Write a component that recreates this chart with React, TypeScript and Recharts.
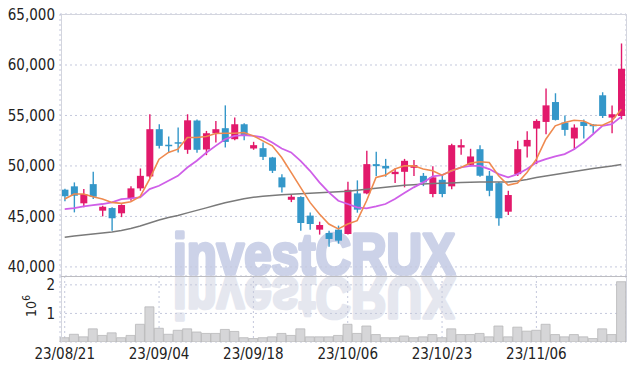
import { ComposedChart, Bar, Line, XAxis, YAxis, CartesianGrid, Customized } from "recharts";

const dates = [
  "23/08/21", "23/08/22", "23/08/23", "23/08/24", "23/08/25", "23/08/28", "23/08/29", "23/08/30", "23/08/31", "23/09/01",
  "23/09/04", "23/09/05", "23/09/06", "23/09/07", "23/09/08", "23/09/11", "23/09/12", "23/09/13", "23/09/14", "23/09/15",
  "23/09/18", "23/09/19", "23/09/20", "23/09/21", "23/09/22", "23/09/25", "23/09/26", "23/09/27", "23/10/04", "23/10/05",
  "23/10/06", "23/10/10", "23/10/11", "23/10/12", "23/10/13", "23/10/16", "23/10/17", "23/10/18", "23/10/19", "23/10/20",
  "23/10/23", "23/10/24", "23/10/25", "23/10/26", "23/10/27", "23/10/30", "23/10/31", "23/11/01", "23/11/02", "23/11/03",
  "23/11/06", "23/11/07", "23/11/08", "23/11/09", "23/11/10", "23/11/13", "23/11/14", "23/11/15", "23/11/16", "23/11/17",
];

const opens = [
  47650, 47980, 46300, 48200, 45570, 45830, 45310, 46790, 47780, 48960,
  53640, 52100, 52350, 51600, 54500, 51630, 53240, 53740, 52650, 54130,
  51730, 51760, 50840, 48870, 46650, 46920, 45080, 43690, 43360, 43690,
  43260, 47280, 47280, 50180, 50010, 49190, 49420, 49815, 49020, 47220,
  48630, 47980, 51830, 50110, 51660, 49030, 48300, 45470, 49190, 51930,
  53700, 54360, 56330, 54300, 52720, 54360, 54100, 57000, 54790, 54950,
];
const highs = [
  47750, 48370, 47710, 49420, 46060, 45900, 46200, 47980, 49750, 55120,
  54130, 52920, 53800, 55120, 54600, 53470, 54460, 56000, 54790, 54230,
  52390, 52320, 50900, 49190, 47190, 47000, 45400, 44480, 43590, 44090,
  48430, 48570, 51500, 51400, 50700, 49750, 50700, 50600, 49300, 49980,
  49100, 52200, 52650, 51700, 52060, 49500, 48400, 47540, 52500, 53440,
  54620, 57660, 57200, 55000, 54120, 54600, 54150, 57300, 55980, 62130,
];
const lows = [
  46500, 45400, 45900, 46720, 45010, 43590, 44930, 46550, 47540, 48700,
  51730, 51340, 51340, 51200, 51300, 51070, 52320, 51830, 52550, 52550,
  51600, 50600, 49300, 47380, 46420, 43590, 43690, 43200, 42000, 42300,
  43200, 45370, 47200, 49000, 48930, 48300, 47880, 49000, 48000, 46900,
  46900, 47700, 51100, 49980, 48930, 47000, 44080, 45140, 49000, 50840,
  50180, 53150, 54500, 53000, 51600, 52720, 53230, 54750, 53230, 54620,
];
const closes = [
  47000, 47050, 47220, 46950, 45960, 44820, 46130, 47780, 49020, 53640,
  51990, 52000, 52300, 54520, 51600, 53240, 53640, 52380, 54130, 52980,
  52060, 50900, 49520, 47880, 46950, 44350, 44250, 44150, 42770, 42600,
  47640, 45670, 50180, 49980, 49750, 49420, 50510, 50080, 48370, 48870,
  47220, 52060, 52060, 50940, 49030, 47540, 44820, 47120, 51660, 52580,
  54460, 56000, 54560, 53570, 53800, 53960, 53930, 54950, 55120, 59630,
];

const ma5 = [
  46720, 47220, 47220, 46950, 46720, 46390, 46290, 46450, 46990, 48700,
  50670, 51340, 51660, 52820, 52820, 52920, 53210, 53240, 53240, 53310,
  52980, 52480, 51990, 50840, 49360, 47880, 46390, 45240, 44250, 43760,
  44250, 44580, 46550, 48870, 49090, 49690, 50010, 50010, 49690, 49520,
  49090, 49520, 49850, 50280, 50410, 50350, 49020, 48100, 48300, 49360,
  50670, 52650, 53970, 54300, 54530, 54460, 54030, 54030, 54460, 55610,
];
const ma20 = [
  45730, 45830, 46000, 46130, 46230, 46390, 46720, 46790, 46890, 47710,
  48040, 48530, 49020, 49850, 50510, 51300, 51990, 52650, 52980, 53050,
  52980, 52820, 52320, 51730, 51340, 50510, 49520, 48370, 47380, 46550,
  46230, 45900, 45800, 46000, 46230, 46720, 47310, 47880, 48370, 48960,
  49090, 49520, 49850, 50010, 50010, 49690, 49190, 48870, 49190, 49690,
  50350, 50670, 50940, 51170, 51660, 52320, 53140, 53970, 54130, 54890,
];
const ma60 = [
  42940, 43050, 43150, 43250, 43350, 43450, 43600, 43800, 44050, 44350,
  44650, 44900, 45100, 45350, 45600, 45850, 46100, 46350, 46550, 46750,
  46900, 47000, 47080, 47150, 47200, 47250, 47300, 47350, 47400, 47450,
  47500, 47600, 47700, 47800, 47900, 48000, 48080, 48150, 48200, 48250,
  48280, 48320, 48350, 48380, 48400, 48400, 48400, 48420, 48500, 48650,
  48850, 49000, 49150, 49300, 49450, 49600, 49750, 49880, 50000, 50150,
];

// volume in millions of shares
const volumes = [
  0.15, 0.27, 0.18, 0.46, 0.23, 0.32, 0.15, 0.23, 0.62, 1.23,
  0.48, 0.27, 0.41, 0.46, 0.35, 0.3, 0.3, 0.44, 0.37, 0.15,
  0.12, 0.15, 0.18, 0.3, 0.23, 0.46, 0.18, 0.18, 0.18, 0.23,
  0.62, 0.3, 0.56, 0.26, 0.15, 0.15, 0.21, 0.15, 0.18, 0.26,
  0.15, 0.46, 0.26, 0.26, 0.3, 0.18, 0.56, 0.18, 0.52, 0.38,
  0.41, 0.62, 0.26, 0.18, 0.26, 0.18, 0.12, 0.46, 0.26, 2.11,
];

const priceTicks = [40000, 45000, 50000, 55000, 60000, 65000];
const volumeTicks = [1, 2];

const PINK = "#e2196b";
const BLUE = "#3497c9";
const GRID = "#c4c8dc";
const FONT = "'Liberation Sans Narrow', 'DejaVu Sans Condensed', sans-serif";
const MARK_FONT = "'Liberation Sans', Arial, sans-serif";
const tickStyle = { fontSize: 15, fill: "#222", fontFamily: FONT };

const rows = dates.map((date, i) => ({
  date,
  open: opens[i],
  high: highs[i],
  low: lows[i],
  close: closes[i],
  range: [lows[i], highs[i]],
  ma5: ma5[i],
  ma20: ma20[i],
  ma60: ma60[i],
  vol: volumes[i],
}));

const Candle = (props: any) => {
  const { x, y, width, height, payload } = props;
  if (!payload || height == null) return null;
  const { open, close, high, low } = payload;
  const color = close >= open ? PINK : BLUE;
  const ratio = height / (high - low);
  const cx = x + width / 2;
  const yOpen = y + (high - open) * ratio;
  const yClose = y + (high - close) * ratio;
  const top = Math.min(yOpen, yClose);
  const bodyH = Math.max(Math.abs(yOpen - yClose), 1.5);
  const bw = 7;
  return (
    <g>
      <line x1={cx} x2={cx} y1={y} y2={y + height} stroke={color} strokeWidth={1.4} />
      <rect x={cx - bw / 2} y={top} width={bw} height={bodyH} fill={color} />
    </g>
  );
};

// "10^6" unit label, in the volume chart's own coordinates
const VolumeUnit = () => (
  <text
    x={36}
    y={30}
    transform="rotate(-90 36 30)"
    fontSize={14}
    fill="#222"
    fontFamily={FONT}
    textAnchor="middle"
  >
    10
    <tspan dy={-6} fontSize={10}>6</tspan>
  </text>
);

export default function App() {
  return (
    <div style={{ position: "absolute", left: 0, top: 0, width: 634, height: 370, background: "#fff" }}>
      <svg width={634} height={370} style={{ position: "absolute", left: 0, top: 0 }}>
        <text
          x={173}
          y={274}
          fontFamily={MARK_FONT}
          fontWeight="bold"
          fontSize={58}
          fill="#ccd2e8"
          stroke="#ccd2e8"
          strokeWidth={3.5}
          strokeLinejoin="round"
          textLength={282}
          lengthAdjust="spacingAndGlyphs"
        >
          investCRUX
        </text>
        <text
          x={173}
          y={274}
          transform="translate(0 552) scale(1 -1)"
          fontFamily={MARK_FONT}
          fontWeight="bold"
          fontSize={58}
          fill="#e5e7ef"
          stroke="#e5e7ef"
          strokeWidth={3.5}
          strokeLinejoin="round"
          textLength={282}
          lengthAdjust="spacingAndGlyphs"
        >
          investCRUX
        </text>
      </svg>

      <div style={{ position: "absolute", left: 0, top: 0 }}>
        <ComposedChart width={634} height={276} data={rows} margin={{ top: 14, right: 8, left: 0, bottom: 0 }}>
          <CartesianGrid stroke={GRID} strokeDasharray="2 3" />
          <XAxis dataKey="date" height={0} interval={9} tick={false} axisLine={false} tickLine={false} />
          <YAxis
            domain={[39100, 65050]}
            allowDataOverflow
            ticks={priceTicks}
            width={60}
            tick={tickStyle}
            tickSize={0}
            tickMargin={5}
            axisLine={false}
            tickFormatter={(v) => v.toLocaleString("en-US")}
          />
          <Line dataKey="ma60" stroke="#7a7a7a" strokeWidth={1.5} dot={false} isAnimationActive={false} />
          <Bar dataKey="range" shape={<Candle />} isAnimationActive={false} />
          <Line dataKey="ma20" stroke="#cf5fe8" strokeWidth={1.8} dot={false} isAnimationActive={false} />
          <Line dataKey="ma5" stroke="#ef8a4f" strokeWidth={1.6} dot={false} isAnimationActive={false} />
        </ComposedChart>
      </div>

      <div style={{ position: "absolute", left: 0, top: 276 }}>
        <ComposedChart
          width={634}
          height={94}
          data={rows}
          barCategoryGap={0}
          margin={{ top: 0, right: 8, left: 0, bottom: 0 }}
        >
          <CartesianGrid stroke={GRID} strokeDasharray="2 3" />
          <XAxis
            dataKey="date"
            height={28}
            interval={9}
            tick={tickStyle}
            tickSize={0}
            tickMargin={6}
            axisLine={false}
            tickLine={false}
          />
          <YAxis
            domain={[0, 2.31]}
            allowDataOverflow
            ticks={volumeTicks}
            width={60}
            tick={tickStyle}
            tickSize={0}
            tickMargin={5}
            axisLine={false}
          />
          <Bar dataKey="vol" fill="#d6d6d8" stroke="#b7b7b9" strokeWidth={0.8} isAnimationActive={false} />
          <Customized component={VolumeUnit} />
        </ComposedChart>
      </div>

      <div
        style={{
          position: "absolute",
          left: 61,
          top: 14,
          width: 566,
          height: 328,
          boxSizing: "border-box",
          borderTop: "1px solid #d3d5de",
          borderLeft: "1px solid #d3d5de",
          borderRight: "1px solid #d3d5de",
          pointerEvents: "none",
        }}
      />
      <div style={{ position: "absolute", left: 61, top: 276, width: 566, height: 1, background: "#bdbdc2" }} />
    </div>
  );
}
